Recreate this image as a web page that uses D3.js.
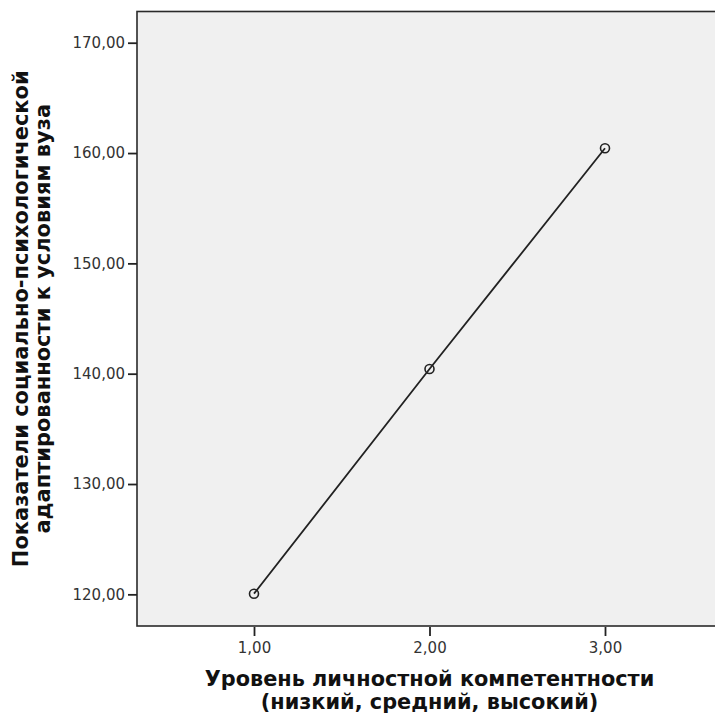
<!DOCTYPE html>
<html lang="ru">
<head>
<meta charset="utf-8">
<script src="https://cdnjs.cloudflare.com/ajax/libs/d3/7.8.5/d3.min.js"></script>
<style>
  body { margin: 0; background: #fff; }
  svg { display: block; }
  .tick text { font-family: "DejaVu Sans", sans-serif; font-size: 15px; fill: #333; }
  .tick line { stroke: #222; stroke-width: 1.8; }
  .lbl { font-family: "DejaVu Sans", sans-serif; font-weight: bold; fill: #111; }
</style>
</head>
<body>
<script>
// data
var levels = [1, 2, 3];
var scores = [120.06, 140.42, 160.43];
var xTicks = [1, 2, 3];
var yTicks = [120, 130, 140, 150, 160, 170];
var xTitle = ["Уровень личностной компетентности", "(низкий, средний, высокий)"];
var yTitle = ["Показатели социально-психологической", "адаптированности к условиям вуза"];

var W = 715, H = 713;
var pLeft = 137, pTop = 11.5, pRight = 722, pBottom = 626;

var svg = d3.select("body").append("svg")
    .attr("width", W)
    .attr("height", H);

var x = d3.scaleLinear().domain([1 / 3, 11 / 3]).range([pLeft, pRight]);
var y = d3.scaleLinear().domain([117.13, 172.83]).range([pBottom, pTop]);

// plot background + frame
svg.append("rect")
    .attr("x", pLeft).attr("y", pTop)
    .attr("width", pRight - pLeft).attr("height", pBottom - pTop)
    .attr("fill", "#f0f0f0")
    .attr("stroke", "#2a2a2a")
    .attr("stroke-width", 1.6);

var fmt = function (d) { return d.toFixed(2).replace(".", ","); };

var gy = svg.append("g")
    .attr("transform", "translate(" + pLeft + ",0)")
    .call(d3.axisLeft(y).tickValues(yTicks).tickFormat(fmt).tickSize(9).tickPadding(3));
gy.select(".domain").remove();

var gx = svg.append("g")
    .attr("transform", "translate(0," + (pBottom + 1) + ")")
    .call(d3.axisBottom(x).tickValues(xTicks).tickFormat(fmt).tickSize(9).tickPadding(6));
gx.select(".domain").remove();

// line + markers
var pts = levels.map(function (d, i) { return [d, scores[i]]; });

svg.append("path")
    .datum(pts)
    .attr("fill", "none")
    .attr("stroke", "#222")
    .attr("stroke-width", 1.8)
    .attr("d", d3.line().x(function (d) { return x(d[0]); }).y(function (d) { return y(d[1]); }));

svg.selectAll("circle.pt")
    .data(pts)
    .enter().append("circle")
    .attr("class", "pt")
    .attr("cx", function (d) { return x(d[0]); })
    .attr("cy", function (d) { return y(d[1]); })
    .attr("r", 4.5)
    .attr("fill", "none")
    .attr("stroke", "#222")
    .attr("stroke-width", 1.6);

// titles, sized to the widths seen in the reference
function fit(sel, target) {
  var w = sel.node().getComputedTextLength();
  var fs = parseFloat(sel.style("font-size"));
  sel.style("font-size", (fs * target / w) + "px");
}

var cx = (pLeft + pRight) / 2;
var xt1 = svg.append("text").attr("class", "lbl").attr("text-anchor", "middle")
    .attr("x", cx).attr("y", 686).style("font-size", "17px").text(xTitle[0]);
var xt2 = svg.append("text").attr("class", "lbl").attr("text-anchor", "middle")
    .attr("x", cx).attr("y", 709).style("font-size", "17px").text(xTitle[1]);
fit(xt1, 450);
xt2.style("font-size", xt1.style("font-size"));

var cy = (pTop + pBottom) / 2;
var yt1 = svg.append("text").attr("class", "lbl").attr("text-anchor", "middle")
    .attr("transform", "translate(28," + cy + ") rotate(-90)")
    .style("font-size", "17px").text(yTitle[0]);
var yt2 = svg.append("text").attr("class", "lbl").attr("text-anchor", "middle")
    .attr("transform", "translate(50," + cy + ") rotate(-90)")
    .style("font-size", "17px").text(yTitle[1]);
fit(yt1, 497);
yt2.style("font-size", yt1.style("font-size"));
</script>
</body>
</html>
